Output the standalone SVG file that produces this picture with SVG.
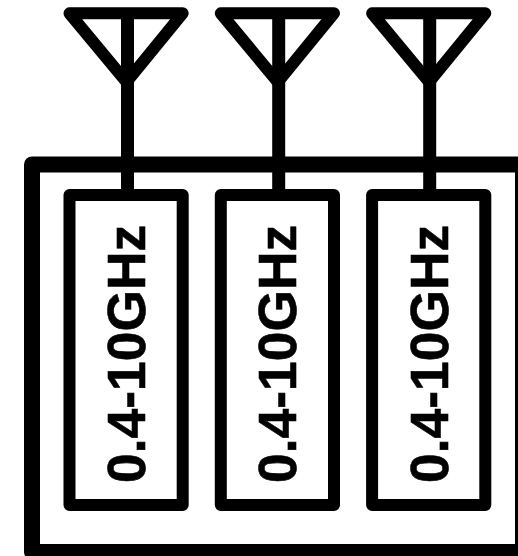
<svg xmlns="http://www.w3.org/2000/svg" width="518" height="556" viewBox="0 0 518 556">
<style>
.s{fill:none;stroke:#000;stroke-linejoin:round}
.b{stroke-width:12}
.m{stroke-width:13}
.o{stroke-width:16}
.t{font-family:"Liberation Sans",Arial,sans-serif;font-weight:700;font-size:54.5px;fill:#000;stroke:#000;stroke-width:.6px}
</style>
<defs>
<path id="ant" class="s b" d="M69.5 13.3H182.7L126.5 82Z"/>
</defs>
<rect width="518" height="556" fill="#fff"/>
<g id="enclosure"><rect class="s o" x="32" y="164.5" width="491" height="387.5"/></g>
<g id="connectors">
<path class="s m" d="M127.5 13V195"/>
<path class="s m" d="M278.7 13V195"/>
<path class="s m" d="M429.7 13V195"/>
</g>
<g id="antenna-1"><use href="#ant"/></g>
<g id="antenna-2"><use href="#ant" x="151.3"/></g>
<g id="antenna-3"><use href="#ant" x="302.6"/></g>
<g id="filter-1"><rect class="s b" x="69.5" y="195" width="113.2" height="310"/><text class="t" transform="translate(145 483) rotate(-90) scale(.98 1)">0.4-10GHz</text></g>
<g id="filter-2"><rect class="s b" x="220.8" y="195" width="113.2" height="310"/><text class="t" transform="translate(296.3 483) rotate(-90) scale(.98 1)">0.4-10GHz</text></g>
<g id="filter-3"><rect class="s b" x="372.1" y="195" width="113.2" height="310"/><text class="t" transform="translate(447.6 483) rotate(-90) scale(.98 1)">0.4-10GHz</text></g>
</svg>
